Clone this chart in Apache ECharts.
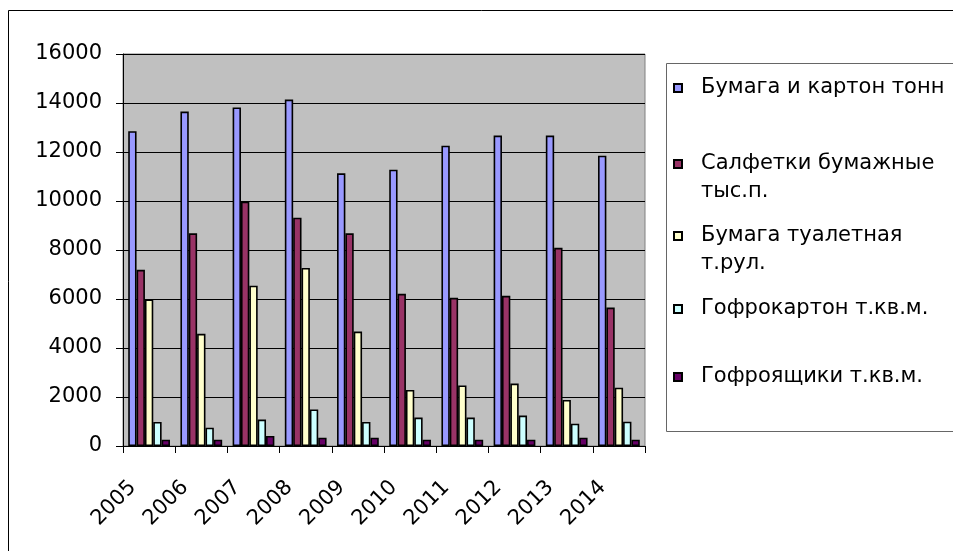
<!DOCTYPE html>
<html>
<head>
<meta charset="utf-8">
<script src="https://cdn.jsdelivr.net/npm/echarts@6/dist/echarts.min.js"></script>
<style>
  html, body { margin: 0; padding: 0; background: #fff; }
  #chart { width: 953px; height: 551px; }
</style>
</head>
<body>
<div id="chart"></div>
<script>
// годы
const years = ['2005', '2006', '2007', '2008', '2009', '2010', '2011', '2012', '2013', '2014']
// значения по сериям
const paperCardboard = [12850, 13650, 13820, 14140, 11130, 11280, 12260, 12670, 12670, 11850]
const napkins = [7190, 8680, 9970, 9320, 8680, 6210, 6050, 6130, 8090, 5650]
const toiletPaper = [5980, 4580, 6540, 7270, 4670, 2290, 2470, 2550, 1880, 2380]
const corrugatedBoard = [980, 750, 1080, 1490, 980, 1160, 1160, 1240, 910, 990]
const corrugatedBoxes = [260, 260, 410, 340, 340, 260, 260, 260, 340, 260]
const seriesNames = [
  'Бумага и картон тонн',
  'Салфетки бумажные\nтыс.п.',
  'Бумага туалетная\nт.рул.',
  'Гофрокартон т.кв.м.',
  'Гофроящики т.кв.м.'
]
const yTicks = { min: 0, max: 16000, step: 2000 }

const colors = ['#9999FF', '#993366', '#FFFFCC', '#CCFFFF', '#660066']
const allData = [paperCardboard, napkins, toiletPaper, corrugatedBoard, corrugatedBoxes]
const font = 'DejaVu Sans'

// легенда: каждая строка отдельно, чтобы повторить неровные отступы
const legendTops = [74, 122, 194, 295, 363]
const legends = seriesNames.map((name, i) => {
  const twoLines = name.indexOf('\n') >= 0
  return {
    data: [name],
    left: 673,
    top: legendTops[i],
    padding: 0,
    itemWidth: 8,
    itemHeight: 8,
    icon: 'rect',
    selectedMode: false,
    // пустая строка сверху, чтобы значок стоял напротив первой строки
    formatter: n => (twoLines ? '\n' + n : n),
    textStyle: {
      fontFamily: font,
      fontSize: 21,
      color: '#000',
      lineHeight: 28,
      padding: [0, 0, 0, 14]
    }
  }
})

const myChart = echarts.init(document.getElementById('chart'))
const options = {
  backgroundColor: '#fff',
  animation: false,
  color: colors,
  graphic: [
    {
      type: 'rect',
      silent: true,
      z: -10,
      shape: { x: 8.5, y: 10.5, width: 1000, height: 600 },
      style: { fill: 'none', stroke: '#000', lineWidth: 1 }
    },
    {
      type: 'rect',
      silent: true,
      z: -10,
      shape: { x: 666.5, y: 63.5, width: 400, height: 368 },
      style: { fill: 'none', stroke: '#666', lineWidth: 1 }
    }
  ],
  legend: legends,
  grid: {
    left: 123,
    top: 54,
    right: 308,
    bottom: 105,
    show: true,
    backgroundColor: '#C0C0C0',
    borderColor: '#808080',
    borderWidth: 1,
    containLabel: false,
    outerBoundsMode: 'none'
  },
  xAxis: {
    type: 'category',
    data: years,
    axisLine: { lineStyle: { color: '#000', width: 1 } },
    axisTick: { show: true, length: 7, lineStyle: { color: '#000' } },
    axisLabel: {
      rotate: 45,
      margin: 22,
      padding: [0, 23, 0, 0],
      fontFamily: font,
      fontSize: 21,
      color: '#000',
      interval: 0
    },
    splitLine: { show: false }
  },
  yAxis: {
    type: 'value',
    min: yTicks.min,
    max: yTicks.max,
    interval: yTicks.step,
    axisLine: { show: true, lineStyle: { color: '#000', width: 1 } },
    axisTick: { show: true, length: 7, lineStyle: { color: '#000' } },
    axisLabel: {
      margin: 21,
      padding: [0, 0, 5, 0],
      fontFamily: font,
      fontSize: 21,
      color: '#000',
      formatter: v => String(v)
    },
    splitLine: { show: true, lineStyle: { color: '#000', width: 1 } }
  },
  series: seriesNames.map((name, i) => ({
    name: name,
    type: 'bar',
    data: allData[i],
    barGap: '0%',
    barCategoryGap: '20%',
    itemStyle: { borderColor: '#000', borderWidth: 1.6 }
  }))
}
myChart.setOption(options)
</script>
</body>
</html>
